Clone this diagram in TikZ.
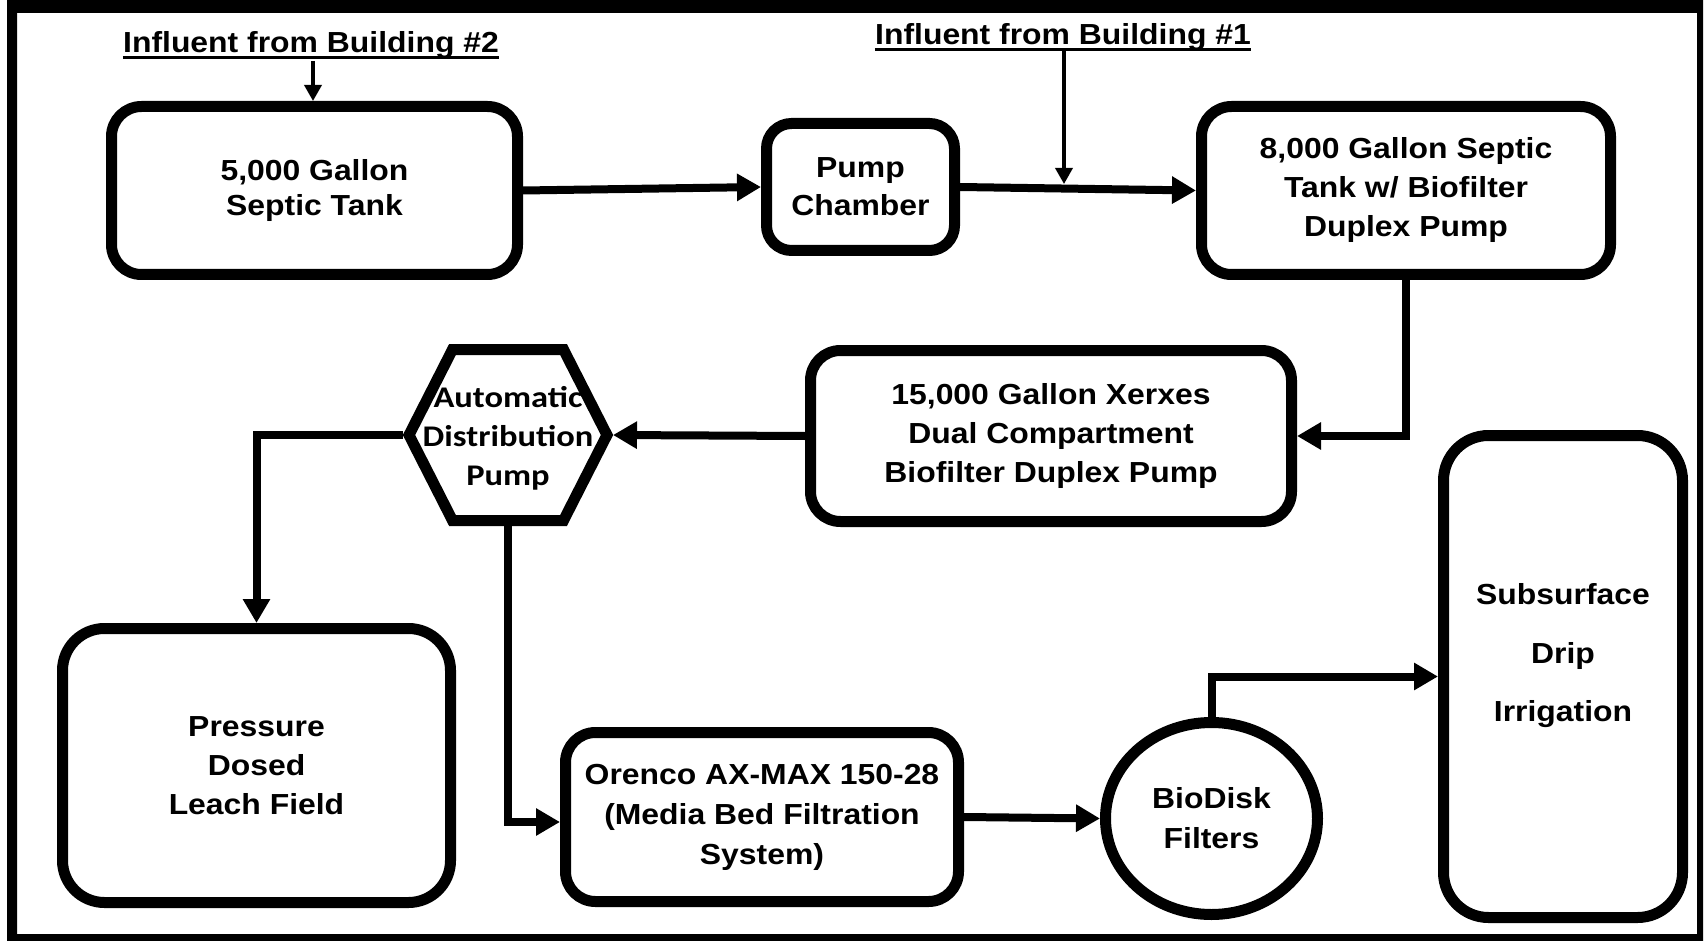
\documentclass[tikz,border=0pt]{standalone}
\usepackage{fontspec}
\newfontfamily\arialx{Liberation Sans}[FakeStretch=1.1]
\newfontfamily\calx{Carlito}[FakeStretch=1.15]
\usetikzlibrary{arrows.meta,shapes.geometric,calc}

\begin{document}
\begin{tikzpicture}[x=1pt,y=-1pt,
  box/.style={draw, line width=11pt, rounded corners=30pt, align=center, inner sep=0pt,
    font=\arialx\bfseries\fontsize{29}{39}\selectfont},
  conn/.style={line width=8pt, -{Triangle[length=24pt,width=26pt]}},
  feed/.style={line width=3.5pt, -{Triangle[length=16pt,width=17pt]}},
  title/.style={inner sep=0pt, anchor=base, font=\arialx\bfseries\fontsize{29}{35}\selectfont},
  uline/.style={line width=3pt},
]
\useasboundingbox (0,0) rectangle (1705,941);
% outer frame
\fill[even odd rule] (7,0) rectangle (1703,941) (17,13) rectangle (1697,934);

% titles
\node[title] (src2) at (311,53) {Influent from Building \#2};
\node[title] (src1) at (1063,45) {Influent from Building \#1};
\draw[uline] ($(src2.base west)+(0,5)$) -- ($(src2.base east)+(0,5)$);
\draw[uline] ($(src1.base west)+(0,5)$) -- ($(src1.base east)+(0,5)$);

% boxes
\node[box, font=\arialx\bfseries\fontsize{29}{35}\selectfont, minimum width=406pt, minimum height=168pt] (tank5) at (314.5,190.5) {5,000 Gallon\\Septic Tank};
\node[box, rounded corners=25pt, font=\arialx\bfseries\fontsize{29}{38}\selectfont, minimum width=188pt, minimum height=127pt] (pump) at (860.5,187) {Pump\\Chamber};
\node[box, minimum width=409pt, minimum height=168pt] (tank8) at (1406,190.5) {8,000 Gallon Septic\\Tank w/ Biofilter\\Duplex Pump};
\node[box, minimum width=481pt, minimum height=171pt] (tank15) at (1051,436) {15,000 Gallon Xerxes\\Dual Compartment\\Biofilter Duplex Pump};

\node[inner sep=0pt, outer sep=0pt, minimum width=210pt, minimum height=182pt, align=center,
  font=\calx\bfseries\fontsize{30}{39}\selectfont] (hex) at (508,438) {Automatic\\Distribution\\Pump};
\draw[line width=11pt] ($(hex.center)+(-99,-3)$) -- ($(hex.center)+(-55.5,-88.5)$) -- ($(hex.center)+(55.5,-88.5)$)
  -- ($(hex.center)+(99,-3)$) -- ($(hex.center)+(55.5,82.5)$) -- ($(hex.center)+(-55.5,82.5)$) -- cycle;

\node[box, rounded corners=42pt, minimum width=388pt, minimum height=274pt] (leach) at (256.5,765.5) {Pressure\\Dosed\\Leach Field};
\node[box, font=\arialx\bfseries\fontsize{29}{40}\selectfont, minimum width=393pt, minimum height=169pt] (orenco) at (762,817) {Orenco AX-MAX 150-28\\(Media Bed Filtration\\System)};
\node[draw, ellipse, line width=11pt, inner sep=0pt, minimum width=212pt, minimum height=192pt, align=center,
  font=\arialx\bfseries\fontsize{29}{40}\selectfont] (bio) at (1211.5,818.5) {BioDisk\\Filters};
\node[box, rounded corners=45pt, minimum width=239pt, minimum height=482pt] (drip) at (1563,676.5) {};
\node[align=center, inner sep=0pt, font=\arialx\bfseries\fontsize{29}{58.5}\selectfont] (driptxt) at (1563,656) {Subsurface\\Drip\\Irrigation};

% feeds
\coordinate (in2) at (313,61);
\coordinate (in1) at (1064,51);
\coordinate (j1) at (1064,184);
\draw[feed] (in2) -- (in2 |- tank5.north);
\draw[feed] (in1) -- (j1);

% connectors
\draw[conn] (tank5.east) -- (pump.west);
\draw[conn] (pump.east) -- (tank8.west);
\draw[conn] (tank8.south) |- (tank15.east);
\draw[conn] (tank15.west) -- ([yshift=3pt]hex.east);
\draw[conn] ([yshift=3pt]hex.west) -| (leach.north);
\draw[conn] ([yshift=3pt]hex.south) |- ([yshift=-5pt]orenco.west);
\draw[conn] (orenco.east) -- (bio.west);
\draw[conn] (bio.north) |- (drip.west);
\end{tikzpicture}
\end{document}
